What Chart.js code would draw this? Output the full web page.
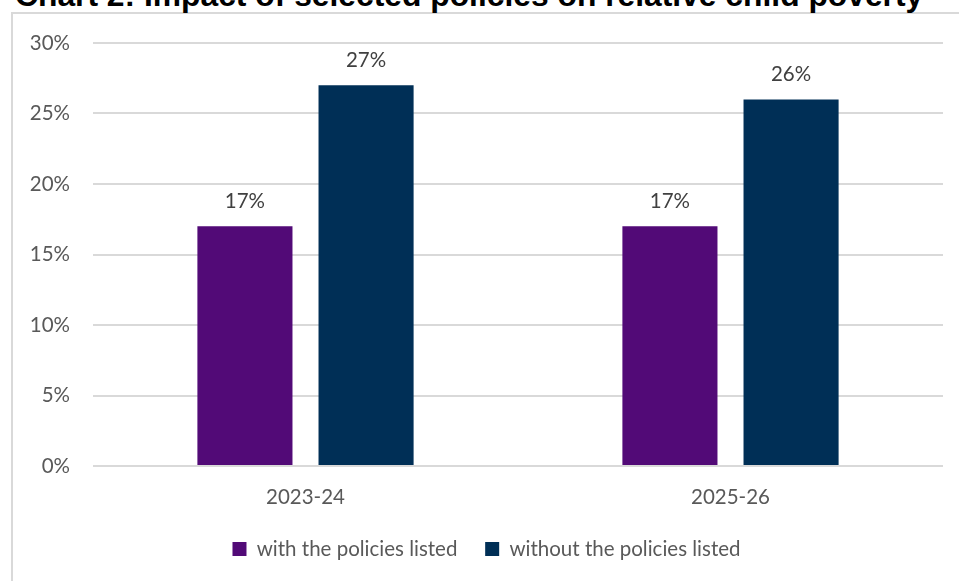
<!DOCTYPE html>
<html lang="en">
<head>
  <meta charset="UTF-8">
  <title>Chart 2: Impact of selected policies on relative child poverty</title>
  <script src="https://cdn.jsdelivr.net/npm/chart.js"></script>
  <style>
    html, body { margin: 0; padding: 0; background: #fff; overflow: hidden; }
    #wrap { position: relative; width: 959px; height: 581px; }
    #title {
      position: absolute; left: 15px; top: -21px; white-space: nowrap;
      font: bold 31.8px/32px "Liberation Sans", Arial, sans-serif; color: #000;
    }
    #frame {
      position: absolute; left: 11px; top: 12px; width: 960px; height: 580px;
      border-left: 2px solid #d9d9d9; border-top: 2px solid #d9d9d9;
    }
    #chart { position: absolute; left: 0; top: 0; }
  </style>
</head>
<body>
<div id="wrap">
  <div id="frame"></div>
  <div id="title">Chart 2: Impact of selected policies on relative child poverty</div>
  <canvas id="chart" width="959" height="581"></canvas>
</div>
<script>
  const years = ["2023-24", "2025-26"];
  const withPolicies = [17, 17];
  const withoutPolicies = [27, 26];
  const seriesNames = ["with the policies listed", "without the policies listed"];
  const yTicks = [0, 5, 10, 15, 20, 25, 30];

  const fontFam = "Lato, 'Open Sans', sans-serif";
  const fontSize = 20.5;

  // value labels above each bar
  const barLabels = {
    id: "barLabels",
    afterDatasetsDraw(chart) {
      const ctx = chart.ctx;
      ctx.save();
      ctx.font = fontSize + "px " + fontFam;
      ctx.fillStyle = "#404040";
      ctx.textAlign = "center";
      ctx.textBaseline = "middle";
      chart.data.datasets.forEach((ds, i) => {
        chart.getDatasetMeta(i).data.forEach((bar, j) => {
          ctx.fillText(ds.data[j] + "%", bar.x, bar.y - 25);
        });
      });
      ctx.restore();
    }
  };

  new Chart(document.getElementById("chart"), {
    type: "bar",
    data: {
      labels: years,
      datasets: [
        { label: seriesNames[0], data: withPolicies, backgroundColor: "#520a77" },
        { label: seriesNames[1], data: withoutPolicies, backgroundColor: "#002f56" }
      ]
    },
    options: {
      responsive: false,
      animation: false,
      devicePixelRatio: 1,
      categoryPercentage: 0.57,
      barPercentage: 0.785,
      layout: { padding: { left: 30, right: 16, top: 43, bottom: 11.75 } },
      scales: {
        y: {
          min: 0, max: 30,
          afterBuildTicks(scale) { scale.ticks = yTicks.map(v => ({ value: v })); },
          afterFit(scale) { scale.width = 63; },
          border: { display: false },
          grid: { color: "#d9d9d9", lineWidth: 2, drawTicks: false },
          ticks: {
            padding: 23,
            color: "#595959",
            font: { family: fontFam, size: fontSize }
            , callback: v => v + "%"
          }
        },
        x: {
          afterFit(scale) { scale.height = 45; },
          border: { display: false },
          grid: { display: false, drawTicks: false },
          ticks: {
            padding: 19,
            color: "#595959",
            font: { family: fontFam, size: fontSize }
          }
        }
      },
      plugins: {
        legend: {
          position: "bottom",
          labels: {
            boxWidth: 14, boxHeight: 14, padding: 27.75,
            color: "#595959",
            font: { family: fontFam, size: fontSize }
          }
        },
        tooltip: { enabled: false }
      }
    },
    plugins: [barLabels]
  });
</script>
</body>
</html>
